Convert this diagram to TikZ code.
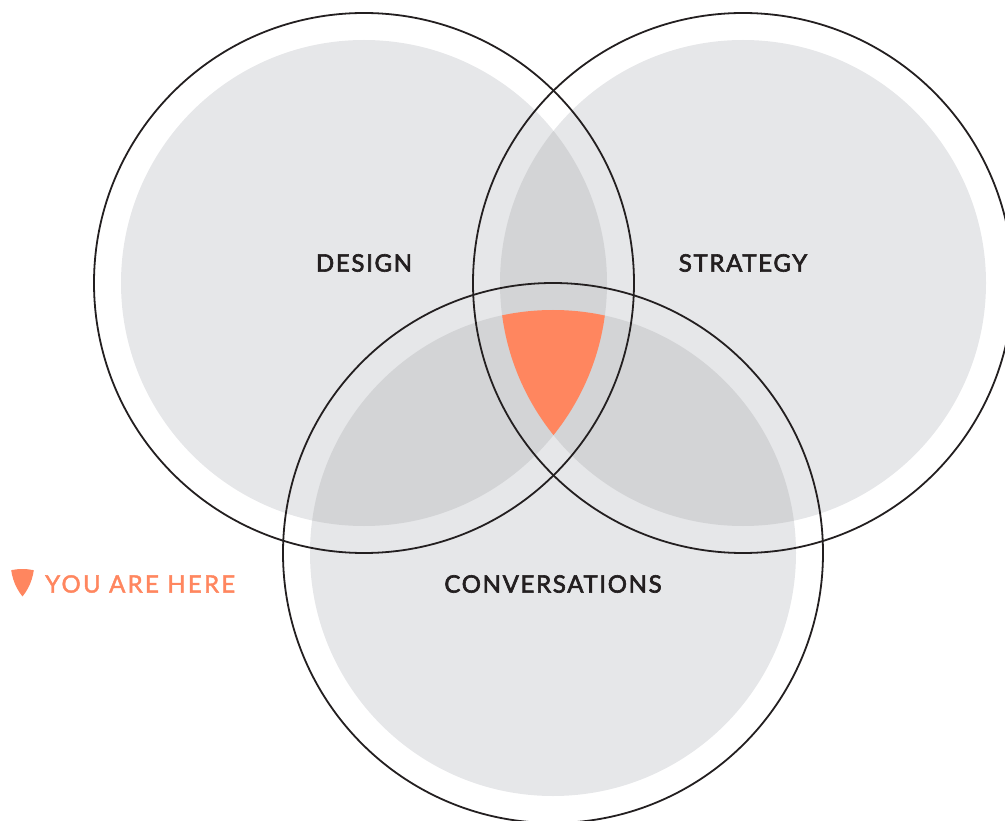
\documentclass[tikz,border=0pt]{standalone}
\usepackage{fontspec}
\setmainfont[LetterSpace=7]{Lato}
\newfontfamily\labelfont[LetterSpace=7,FakeBold=2.6]{Lato}
\newfontfamily\herefont[LetterSpace=9.5,FakeBold=1.8]{Lato}
\definecolor{lightgray}{HTML}{E6E7E9}
\definecolor{overlapgray}{HTML}{D3D4D6}
\definecolor{herecolor}{HTML}{FF865F}
\definecolor{linecolor}{HTML}{231F20}
\def\ringrad{270}
\def\fillrad{243}
\def\designpos{(364,283)}
\def\strategypos{(743,283)}
\def\convpos{(553,553)}
% the part that all three circles share
\newcommand{\sharedpart}{
\clip \designpos circle (\fillrad);
\clip \strategypos circle (\fillrad);
\fill[herecolor] \convpos circle (\fillrad);
}

\begin{document}
\begin{tikzpicture}[x=1pt,y=-1pt]
\tikzstyle{ring}=[draw=linecolor,line width=1.8pt]
\tikzstyle{circle label}=[font=\labelfont\fontsize{24}{24}\selectfont,text=linecolor,inner sep=0pt]
\tikzstyle{here label}=[font=\herefont\fontsize{24}{24}\selectfont,text=herecolor,inner sep=0pt,anchor=west]

\clip (0,0) rectangle (1005,821);

% Draw the filled circles
\foreach \c in {\designpos,\strategypos,\convpos}
\fill[lightgray] \c circle (\fillrad);

% Draw the overlaps of two circles
\foreach \a / \b in {\designpos/\strategypos,\designpos/\convpos,\strategypos/\convpos}
{
\begin{scope}
\clip \a circle (\fillrad);
\fill[overlapgray] \b circle (\fillrad);
\end{scope}
}

% Draw the overlap of all three
\begin{scope}
\sharedpart
\end{scope}

% Draw the outer rings
\foreach \c in {\designpos,\strategypos,\convpos}
\path[ring] \c circle (\ringrad);

% Labels
\node[circle label] (design label) at (364,263) {DESIGN};
\node[circle label] (strategy label) at (743,263) {STRATEGY};
\node[circle label] (conv label) at (553,584) {CONVERSATIONS};

% Legend, the same shape made small
\begin{scope}[shift={(22.5,569)},scale=0.22,shift={(-553.5,-310)}]
\sharedpart
\end{scope}
\node[here label] (here label) at (45,584) {YOU ARE HERE};
\end{tikzpicture}
\end{document}
